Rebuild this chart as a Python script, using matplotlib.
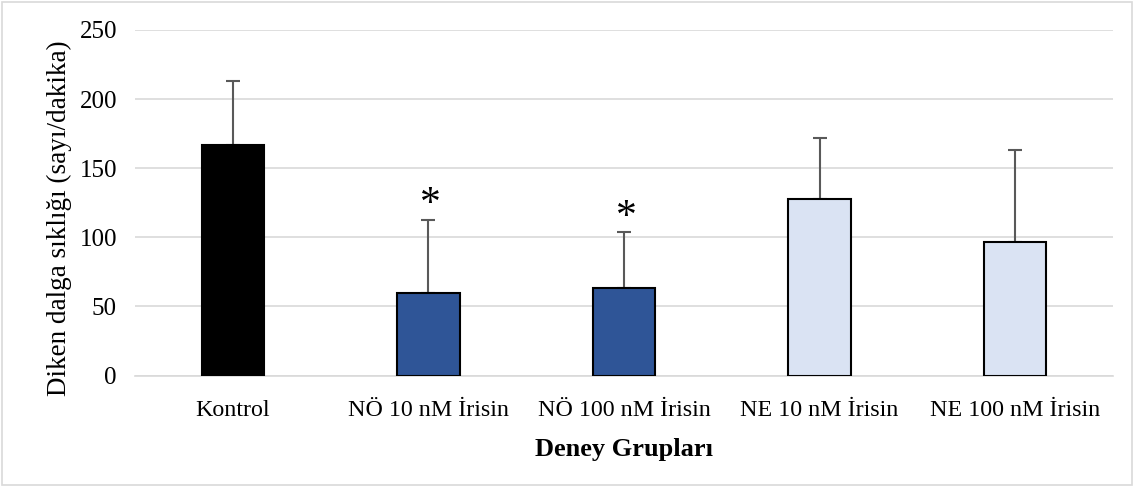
import numpy as np
import matplotlib
matplotlib.use('Agg')
import matplotlib.pyplot as plt

plt.rcParams.update({
    'font.family': ['Liberation Serif', 'DejaVu Serif'],
    'font.size': 15,
})

GROUPS = ['Kontrol', 'NÖ 10 nM İrisin', 'NÖ 100 nM İrisin',
          'NE 10 nM İrisin', 'NE 100 nM İrisin']
MEANS = [167, 60, 63, 128, 96.5]
SD = [46, 52.5, 40.5, 43.5, 67]
SIGNIF = ['', '*', '*', '', '']
COLORS = ['#000000', '#2F5597', '#2F5597', '#DAE3F3', '#DAE3F3']

fig = plt.figure(figsize=(11.41, 4.88), dpi=100)
ax = fig.add_axes([135 / 1141, 1 - 375.5 / 488, 978 / 1141, 345.5 / 488])

x = np.arange(len(GROUPS))
ax.bar(x, MEANS, width=0.32, color=COLORS, edgecolor='black',
       linewidth=1.5, zorder=3)
ax.errorbar(x, MEANS, yerr=[np.zeros(len(SD)), SD], fmt='none',
            ecolor='#595959', elinewidth=1.5, capsize=5, capthick=1.5,
            zorder=2)

for xi, m, s, lab in zip(x, MEANS, SD, SIGNIF):
    if lab:
        ax.text(xi + 0.01, m + s - 3, lab, ha='center', va='bottom',
                fontsize=30)

ax.set_xlim(-0.5, len(GROUPS) - 0.5)
ax.set_ylim(0, 250)
ax.set_yticks(range(0, 251, 50))
ax.set_xticks(x)
ax.set_xticklabels(GROUPS, fontsize=17.3)
ax.tick_params(length=0, pad=18)
ax.tick_params(axis='y', pad=13, labelsize=18)
ax.grid(axis='y', color='#D9D9D9', linewidth=1.2, zorder=0)
for side in ['top', 'right', 'left']:
    ax.spines[side].set_visible(False)
ax.spines['bottom'].set_color('#D9D9D9')
ax.spines['bottom'].set_linewidth(1.2)

ax.set_ylabel('Diken dalga sıklığı (sayı/dakika)', fontsize=19.5)
ax.yaxis.set_label_coords(-0.0644, 0.454)
ax.set_xlabel('Deney Grupları', fontsize=19, fontweight='bold', labelpad=12)

# ince gri çerçeve
fig.patches.append(plt.Rectangle((2 / 1141, 3 / 488), 1130 / 1141, 483 / 488,
                                 transform=fig.transFigure, fill=False,
                                 edgecolor='#D9D9D9', linewidth=1.2))

fig.savefig('out.png', dpi=100)
